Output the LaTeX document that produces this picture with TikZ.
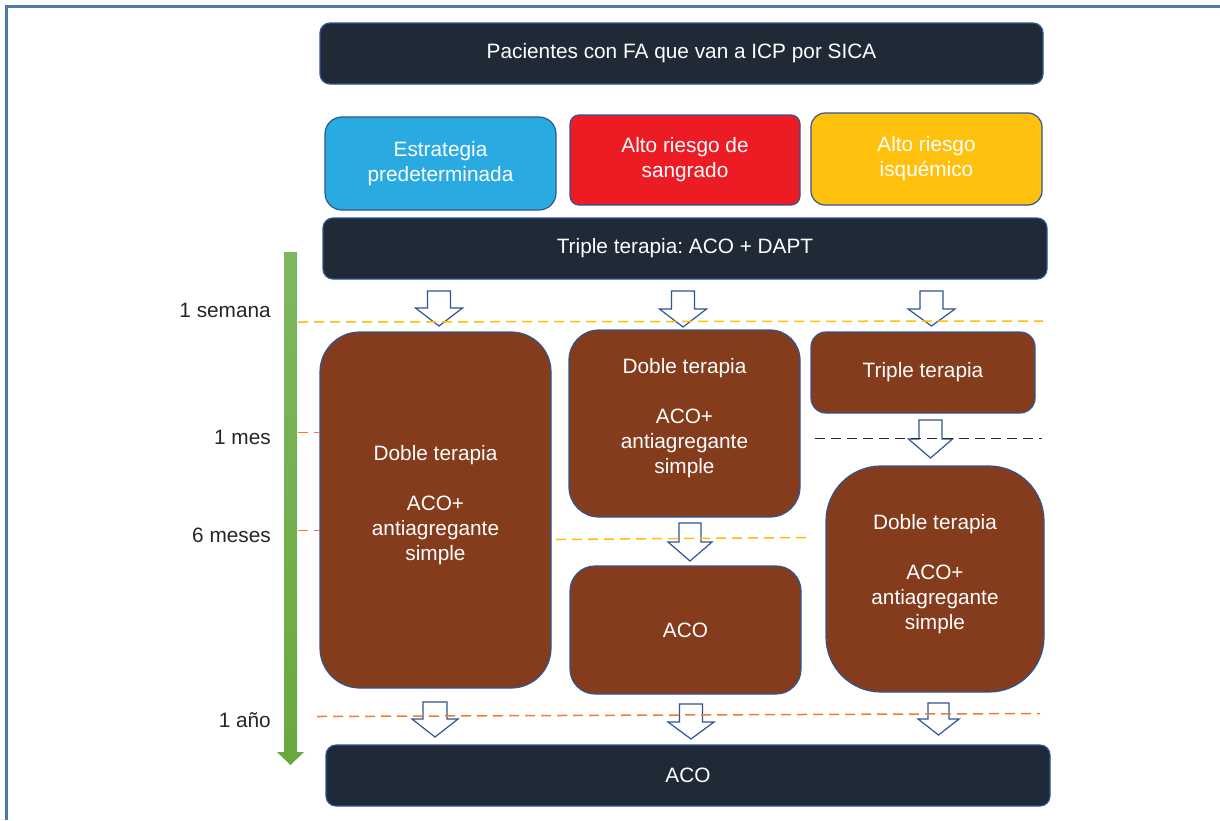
\documentclass[tikz,border=0pt]{standalone}
\usepackage{fontspec}
\setmainfont{Liberation Sans}
\frenchspacing
\definecolor{navy}{RGB}{31,42,54}
\definecolor{edge}{RGB}{47,85,151}
\definecolor{framec}{RGB}{79,121,166}
\definecolor{skyb}{RGB}{41,171,226}
\definecolor{redb}{RGB}{237,28,36}
\definecolor{yelb}{RGB}{255,193,14}
\definecolor{brown}{RGB}{132,60,28}
\definecolor{greenA}{RGB}{127,183,96}
\definecolor{greenB}{RGB}{104,169,62}
\definecolor{yelline}{RGB}{255,192,0}
\definecolor{orline}{RGB}{237,125,49}
\definecolor{labc}{RGB}{38,38,38}
\newcommand{\bArrow}[6]{%
  \draw[barrow] (#1-#5,#2) -- (#1+#5,#2) -- (#1+#5,#3) -- (#1+#6,#3) -- (#1,#4) -- (#1-#6,#3) -- (#1-#5,#3) -- cycle;}
\begin{document}
\begin{tikzpicture}[x=1pt,y=-1pt,
  font=\fontsize{20.8}{25}\selectfont,
  box/.style={draw=edge, line width=1.2pt, inner sep=0pt, text=white, align=center},
  txt/.style={text=white, align=center, inner sep=0pt},
  lab/.style={text=labc, anchor=east, inner sep=0pt},
  barrow/.style={draw=edge, fill=white, line width=1.2pt, line join=miter},
  dline/.style={line width=1.5pt, dash pattern=on 10pt off 6pt}]
\useasboundingbox (0,0) rectangle (1220,820);
\fill[white] (0,0) rectangle (1220,820);
\draw[framec, line width=2.2pt] (6.5,820) -- (6.5,6.5) -- (1220,6.5);

% header boxes
\node[box, fill=navy, minimum width=723pt, minimum height=61pt, rounded corners=10pt] (top) at (681.5,53.5) {Pacientes con FA que van a ICP por SICA};
\node[box, fill=skyb, minimum width=231pt, minimum height=93pt, rounded corners=17pt] (est) at (440.5,163.5) {Estrategia\\predeterminada};
\node[box, fill=redb, minimum width=230pt, minimum height=90pt, rounded corners=9pt] (san) at (685,160) {Alto riesgo de\\sangrado};
\node[box, fill=yelb, minimum width=231pt, minimum height=92pt, rounded corners=14pt] (isq) at (926.5,159) {Alto riesgo\\isquémico};
\node[box, fill=navy, minimum width=724pt, minimum height=61pt, rounded corners=10pt] (tri) at (685,248.5) {Triple terapia: ACO + DAPT};

% green time arrow
\shade[top color=greenA, bottom color=greenB] (284,252) -- (297,252) -- (297,752) -- (304,752) -- (290.5,765) -- (277,752) -- (284,752) -- cycle;

% time labels
\node[lab] (l1) at (271,310) {1 semana};
\node[lab] (l2) at (271,437.5) {1 mes};
\node[lab] (l3) at (271,535) {6 meses};
\node[lab] (l4) at (271,720) {1 año};

% brown boxes
\node[box, fill=brown, minimum width=231pt, minimum height=356pt, rounded corners=40pt] (c1) at (435.5,510) {};
\node[txt] (t1) at (435.5,505) {Doble terapia\\[25pt]ACO+\\antiagregante\\simple};
\node[box, fill=brown, minimum width=231pt, minimum height=187pt, rounded corners=30pt] (c2a) at (684.5,423.5) {};
\node[txt] (t2) at (684.5,418) {Doble terapia\\[25pt]ACO+\\antiagregante\\simple};
\node[box, fill=brown, minimum width=231pt, minimum height=128pt, rounded corners=25pt] (c2b) at (685.5,630) {ACO};
\node[box, fill=brown, minimum width=224pt, minimum height=81pt, rounded corners=15pt] (c3a) at (923,372.5) {Triple terapia};
\node[box, fill=brown, minimum width=218pt, minimum height=226pt, rounded corners=55pt] (c3b) at (935,579) {};
\node[txt] (t3) at (935,574) {Doble terapia\\[25pt]ACO+\\antiagregante\\simple};

% bottom box
\node[box, fill=navy, minimum width=724pt, minimum height=61pt, rounded corners=10pt] (aco) at (688,775.5) {ACO};

% block arrows
\bArrow{439}{291}{308}{326}{11.5}{23.5}
\bArrow{683}{291}{309}{327}{11.5}{23.5}
\bArrow{931.5}{291}{309}{326}{11.5}{23.5}
\bArrow{930.5}{420}{439}{458}{11.5}{22}
\bArrow{690}{523}{542}{561}{11}{22}
\bArrow{435}{702}{719}{737}{12}{23}
\bArrow{691}{704}{722}{739}{11.5}{23}
\bArrow{938.5}{703}{719}{735}{10.5}{20.5}

% dashed time lines
\draw[dline, yelline] (298,322) -- (1043,321);
\draw[dline, orline] (298,432.5) -- (320,432.5);
\draw[dline, orline] (298,530.5) -- (320,530.5);
\draw[dline, yelline] (556,539.5) -- (808,537.5);
\draw[dline, black!85] (815,438.5) -- (1042,438.5);
\draw[dline, orline] (317,716.5) -- (1040,713.5);
\end{tikzpicture}
\end{document}
